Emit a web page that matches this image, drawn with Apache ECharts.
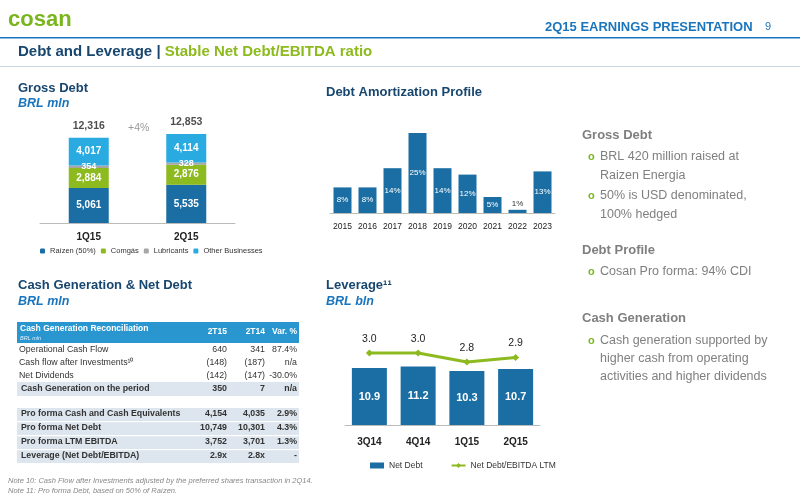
<!DOCTYPE html>
<html><head><meta charset="utf-8">
<script src="https://cdn.jsdelivr.net/npm/echarts@6/dist/echarts.min.js"></script>
<style>html,body{margin:0;padding:0;background:#fff}#c{width:800px;height:500px}</style>
</head><body><div id="c"></div>
<script>
const grossCats = ['1Q15','2Q15'];
const raizen = [5061,5535];
const comgas = [2884,2876];
const lubricants = [354,328];
const otherBiz = [4017,4114];
const grossTotals = [12316,12853];
const amortYears = ['2015','2016','2017','2018','2019','2020','2021','2022','2023'];
const amortPct = [8,8,14,25,14,12,5,1,13];
const levCats = ['3Q14','4Q14','1Q15','2Q15'];
const netDebt = [10.9,11.2,10.3,10.7];
const leverage = [3.0,3.0,2.8,2.9];
const tableHead = ['2T15','2T14','Var. %'];
const tableRows = [
 ['Operational Cash Flow','640','341','87.4%'],
 ['Cash flow after Investments¹⁰','(148)','(187)','n/a'],
 ['Net Dividends','(142)','(147)','-30.0%'],
 ['Cash Generation on the period','350','7','n/a'],
 ['Pro forma Cash and Cash Equivalents','4,154','4,035','2.9%'],
 ['Pro forma Net Debt','10,749','10,301','4.3%'],
 ['Pro forma LTM EBITDA','3,752','3,701','1.3%'],
 ['Leverage (Net Debt/EBITDA)','2.9x','2.8x','-']
];

const F='Liberation Sans, Arial, sans-serif';
const DB='#1b6ea3', GR='#8dba1e', GY='#a6a6a6', LB='#29abe2', NAVY='#17466f';
const fmt=v=>String(v).replace(/\B(?=(\d{3})+(?!\d))/g,',');
const g=[];
function T(x,y,text,s){g.push({type:'text',x:x,y:y,style:Object.assign({text:text,fontFamily:F,fontSize:12,fill:'#555',textVerticalAlign:'middle'},s||{})});}
function R(x,y,w,h,fill){g.push({type:'rect',shape:{x:x,y:y,width:w,height:h},style:{fill:fill}});}

T(8,20,'cosan',{fontSize:22,fontWeight:'bold',fill:'#7ab51d'});
T(545,27,'2Q15 EARNINGS PRESENTATION',{fontSize:13,fontWeight:'bold',fill:'#1b75bc'});
T(765,27,'9',{fontSize:11,fill:'#1b75bc'});
R(0,37,800,1.5,'#1b75bc');
g.push({type:'text',x:18,y:52,style:{rich:{a:{fill:NAVY,fontWeight:'bold',fontSize:15,fontFamily:F},b:{fill:'#8dba1e',fontWeight:'bold',fontSize:15,fontFamily:F}},text:'{a|Debt and Leverage | }{b|Stable Net Debt/EBITDA ratio}',textVerticalAlign:'middle'}});
R(0,66,800,1,'#c9d6e2');
const hs={fontSize:13,fontWeight:'bold',fill:NAVY};
const ss={fontSize:12.5,fontWeight:'bold',fontStyle:'italic',fill:'#1b75bc'};
T(18,88,'Gross Debt',hs); T(18,104,'BRL mln',ss);
T(326,92,'Debt Amortization Profile',hs);
T(18,285,'Cash Generation & Net Debt',hs); T(18,302,'BRL mln',ss);
T(326,285,'Leverage¹¹',hs); T(326,302,'BRL bln',ss);
T(128,128,'+4%',{fontSize:10.5,fill:'#999'});
const rh={fontSize:13,fontWeight:'bold',fill:'#7f7f7f'};
const rt={fontSize:12.5,fill:'#7f7f7f'};
const bl={fontSize:11,fill:'#7ab51d',fontWeight:'bold'};
T(582,135,'Gross Debt',rh);
T(588,157,'o',bl); T(600,157,'BRL 420 million raised at',rt); T(600,176,'Raizen Energia',rt);
T(588,196,'o',bl); T(600,196,'50% is USD denominated,',rt); T(600,215,'100% hedged',rt);
T(582,250,'Debt Profile',rh);
T(588,272,'o',bl); T(600,272,'Cosan Pro forma: 94% CDI',rt);
T(582,318,'Cash Generation',rh);
T(588,341,'o',bl); T(600,341,'Cash generation supported by',rt); T(600,359,'higher cash from operating',rt); T(600,377,'activities and higher dividends',rt);
R(17,322,282,21,'#2a96cf');
T(20,329,'Cash Generation Reconciliation',{fontSize:8.5,fontWeight:'bold',fill:'#fff'});
T(20,338,'BRL mln',{fontSize:5.5,fontStyle:'italic',fill:'#e0f0ff'});
const cx=[227,265,297];
tableHead.forEach((h,i)=>T(cx[i],332,h,{fontSize:8.5,fontWeight:'bold',fill:'#fff',textAlign:'right'}));
R(17,382,282,14,'#dde5ee');
R(17,408,282,55,'#dde5ee');
[421,435,449].forEach(y=>R(17,y,282,1.2,'#fff'));
const ry=[350,363,376,389,414,428,442,456];
tableRows.forEach((r,k)=>{
  const b=k>=3, st={fontSize:8.8,fill:'#333',fontWeight:b?'bold':'normal'};
  T(b?21:19,ry[k],r[0],st);
  for(let i=0;i<3;i++) T(cx[i],ry[k],r[i+1],Object.assign({textAlign:'right'},st));
});
T(8,481,'Note 10: Cash Flow after Investments adjusted by the preferred shares transaction in 2Q14.',{fontSize:7.5,fontStyle:'italic',fill:'#888'});
T(8,491,'Note 11: Pro forma Debt, based on 50% of Raízen.',{fontSize:7.5,fontStyle:'italic',fill:'#888'});

const lblW={show:true,color:'#fff',fontFamily:F,fontSize:10,fontWeight:'bold',formatter:p=>fmt(p.value)};
const catAx=(gi,data,extra)=>Object.assign({type:'category',gridIndex:gi,data:data,axisTick:{show:false},axisLine:{lineStyle:{color:'#bbb'}},axisLabel:{color:'#222',fontFamily:F,fontSize:9.5,fontWeight:'bold'}},extra||{});
const valAx=(gi,max,extra)=>Object.assign({type:'value',gridIndex:gi,min:0,max:max,show:false,splitLine:{show:false}},extra||{});

const opt={
 animation:false,
 textStyle:{fontFamily:F},
 graphic:g,
 grid:[
  {left:40,width:195,top:123,height:100},
  {left:330,width:225,top:133,height:80},
  {left:345,width:195,top:340,height:85}
 ],
 xAxis:[catAx(0,grossCats,{axisLabel:{color:'#222',fontFamily:F,fontSize:10,fontWeight:'bold',margin:9}}),catAx(1,amortYears,{axisLabel:{color:'#222',fontFamily:F,fontSize:8.5,margin:9}}),catAx(2,levCats,{axisLabel:{color:'#222',fontFamily:F,fontSize:10,fontWeight:'bold',margin:12}})],
 yAxis:[valAx(0,14440),valAx(1,25),valAx(2,16.25),valAx(2,3.289,{min:1.4})],
 legend:[
  {data:['Raízen (50%)','Comgás','Lubricants','Other Businesses'],left:35,top:242,itemWidth:5,itemHeight:5,itemGap:5,textStyle:{fontSize:7.5,color:'#333'}},
  {data:[{name:'Net Debt',icon:'rect'},{name:'Net Debt/EBITDA LTM'}],left:365,top:456,itemWidth:14,itemHeight:6,itemGap:28,textStyle:{fontSize:8.5,color:'#333'}}
 ],
 series:[
  {name:'Raízen (50%)',type:'bar',stack:'g',xAxisIndex:0,yAxisIndex:0,data:raizen,barWidth:40,itemStyle:{color:DB},label:lblW},
  {name:'Comgás',type:'bar',stack:'g',xAxisIndex:0,yAxisIndex:0,data:comgas,itemStyle:{color:GR},label:lblW},
  {name:'Lubricants',type:'bar',stack:'g',xAxisIndex:0,yAxisIndex:0,data:lubricants,itemStyle:{color:GY},label:Object.assign({},lblW,{fontSize:9})},
  {name:'Other Businesses',type:'bar',stack:'g',xAxisIndex:0,yAxisIndex:0,data:otherBiz,itemStyle:{color:LB},label:lblW},
  {type:'scatter',xAxisIndex:0,yAxisIndex:0,data:grossTotals,symbolSize:0,label:{show:true,position:'top',distance:6,color:'#222',fontSize:10.5,fontWeight:'bold',fontFamily:F,formatter:p=>fmt(p.value)}},
  {type:'bar',xAxisIndex:1,yAxisIndex:1,data:amortPct.map(v=>({value:v,label:v<3?{position:'top',color:'#333',distance:2}:{}})),barWidth:18,itemStyle:{color:DB},
   label:{show:true,position:'inside',color:'#fff',fontSize:8,formatter:p=>p.value+'%'}},
  {name:'Net Debt',type:'bar',xAxisIndex:2,yAxisIndex:2,data:netDebt,barWidth:35,itemStyle:{color:DB},label:Object.assign({},lblW,{fontSize:11,position:'inside',formatter:p=>p.value.toFixed(1)})},
  {name:'Net Debt/EBITDA LTM',type:'line',xAxisIndex:2,yAxisIndex:3,data:leverage,symbol:'diamond',symbolSize:7,lineStyle:{color:GR,width:3},itemStyle:{color:GR},
   label:{show:true,position:'top',distance:5,color:'#222',fontSize:10.5,formatter:p=>p.value.toFixed(1)}}
 ]
};
echarts.init(document.getElementById('c')).setOption(opt);
</script></body></html>
